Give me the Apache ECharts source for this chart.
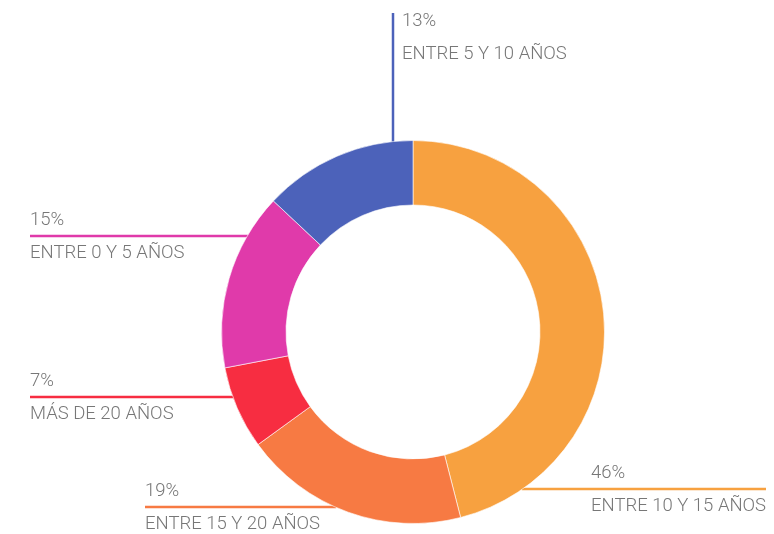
<!DOCTYPE html>
<html><head><meta charset="utf-8">
<script src="https://cdn.jsdelivr.net/npm/echarts@6/dist/echarts.min.js"></script>
<style>html,body{margin:0;padding:0;background:#fff}#c{width:774px;height:534px}</style>
</head><body><div id="c"></div>
<script>
var categories = ['ENTRE 10 Y 15 AÑOS', 'ENTRE 15 Y 20 AÑOS', 'MÁS DE 20 AÑOS', 'ENTRE 0 Y 5 AÑOS', 'ENTRE 5 Y 10 AÑOS'];
var values = [46, 19, 7, 15, 13];
var colors = ['#F7A140', '#F77A43', '#F72D41', '#E03AAA', '#4C62BA'];

var CX = 413, CY = 332, R = 191.5, RI = 127;
var labelPos = [
  {x: 591, y: 489, lineFrom: 766, side: 'right'},
  {x: 145, y: 507, lineFrom: 145, side: 'left'},
  {x: 30, y: 397, lineFrom: 30, side: 'left'},
  {x: 30, y: 236, lineFrom: 30, side: 'left'},
  {x: 402, y: 37, vx: 393, top: 13, side: 'top'}
];

var FS = 18.5;
var chart = echarts.init(document.getElementById('c'), null, {renderer: 'canvas'});
chart.setOption({
  animation: false,
  series: [{
    type: 'pie',
    center: [CX, CY],
    radius: [RI, R],
    startAngle: 90,
    clockwise: true,
    avoidLabelOverlap: false,
    itemStyle: {borderColor: '#ffffff', borderWidth: 0.6},
    label: {
      show: true,
      formatter: '{p|{c}%}\n{n|{b}}',
      color: '#777777',
      fontFamily: 'Roboto',
      fontWeight: 300,
      fontSize: FS,
      lineHeight: 33,
      rich: {
        p: {fontFamily: 'Roboto', fontWeight: 300, fontSize: FS, color: '#777777', lineHeight: 33},
        n: {fontFamily: 'Roboto', fontWeight: 300, fontSize: FS, color: '#777777', lineHeight: 33}
      }
    },
    labelLine: {show: true, lineStyle: {width: 2.5}},
    labelLayout: function (p) {
      var L = labelPos[p.dataIndex];
      var pts;
      if (L.side === 'top') {
        var ey = CY - Math.sqrt(R * R - (L.vx - CX) * (L.vx - CX)) + 1;
        pts = [[L.vx, L.top], [L.vx, (L.top + ey) / 2], [L.vx, ey]];
      } else {
        var dx = Math.sqrt(R * R - (L.y - CY) * (L.y - CY)) - 1;
        var ex = L.side === 'right' ? CX + dx : CX - dx;
        pts = [[L.lineFrom, L.y], [(L.lineFrom + ex) / 2, L.y], [ex, L.y]];
      }
      return {x: L.x, y: L.y + 0.5, align: 'left', verticalAlign: 'middle', labelLinePoints: pts};
    },
    data: categories.map(function (c, i) {
      return {name: c, value: values[i], itemStyle: {color: colors[i]}, labelLine: {lineStyle: {color: colors[i]}}};
    })
  }]
});
</script></body></html>
